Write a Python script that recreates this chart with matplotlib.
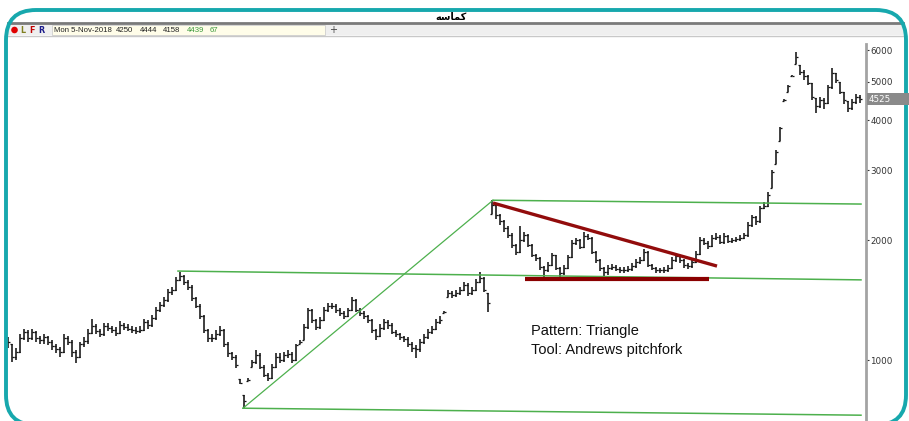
import numpy as np
import matplotlib
matplotlib.use('Agg')
import matplotlib.pyplot as plt
from matplotlib.patches import FancyBboxPatch, Rectangle, Circle
from matplotlib.ticker import NullLocator

# daily prices (one bar per slot)
close = [1110, 1017, 1047, 1135, 1176, 1135, 1176, 1135, 1120, 1140,
         1110, 1085, 1065, 1047, 1135, 1110, 1047, 1017, 1095, 1115,
         1170, 1218, 1183, 1160, 1218, 1203, 1190, 1170, 1225, 1210,
         1197, 1190, 1183, 1190, 1246, 1225, 1275, 1335, 1375, 1415,
         1480, 1500, 1590, 1625, 1570, 1525, 1430, 1368, 1290, 1190,
         1135, 1135, 1160, 1190, 1100, 1040, 1017, 972, 875, 790,
         890, 988, 1030, 960, 917, 900, 960, 1017, 1000, 1030,
         1035, 1000, 1090, 1110, 1210, 1335, 1260, 1210, 1260, 1335,
         1368, 1368, 1335, 1310, 1290, 1335, 1415, 1335, 1310, 1290,
         1260, 1190, 1148, 1203, 1246, 1225, 1176, 1160, 1140, 1128,
         1100, 1075, 1065, 1110, 1140, 1176, 1197, 1246, 1260, 1320,
         1470, 1457, 1470, 1500, 1540, 1470, 1500, 1570, 1610, 1500,
         1390, 2450, 2320, 2230, 2145, 2060, 1945, 1870, 2000, 2060,
         1945, 1835, 1800, 1710, 1680, 1730, 1835, 1700, 1650, 1700,
         1810, 1970, 2000, 1920, 2045, 2030, 1870, 1780, 1700, 1660,
         1700, 1710, 1690, 1680, 1680, 1690, 1720, 1760, 1780, 1870,
         1730, 1700, 1680, 1680, 1680, 1700, 1780, 1825, 1780, 1730,
         1720, 1760, 1850, 2000, 1970, 1930, 2030, 2040, 1980, 2045,
         1990, 2000, 2015, 2030, 2060, 2180, 2290, 2230, 2410, 2440,
         2600, 2970, 3330, 3830, 4500, 4880, 5180, 5780, 5300, 5180,
         4970, 4580, 4350, 4500, 4420, 4850, 5260, 5050, 4720, 4500,
         4300, 4450, 4580, 4525]

high = [1140, 1100, 1070, 1160, 1200, 1190, 1200, 1180, 1150, 1160,
        1150, 1120, 1100, 1080, 1160, 1150, 1120, 1060, 1110, 1140,
        1200, 1270, 1230, 1200, 1240, 1240, 1220, 1210, 1250, 1240,
        1230, 1220, 1210, 1220, 1270, 1260, 1300, 1360, 1400, 1440,
        1510, 1530, 1620, 1660, 1640, 1590, 1540, 1440, 1380, 1300,
        1200, 1160, 1190, 1220, 1200, 1110, 1050, 1030, 895, 815,
        900, 1000, 1060, 1040, 970, 930, 975, 1040, 1040, 1050,
        1060, 1045, 1100, 1120, 1230, 1350, 1340, 1270, 1280, 1360,
        1390, 1390, 1380, 1350, 1330, 1350, 1440, 1420, 1350, 1330,
        1300, 1270, 1200, 1230, 1270, 1260, 1240, 1190, 1170, 1150,
        1140, 1110, 1090, 1130, 1160, 1200, 1220, 1270, 1290, 1330,
        1500, 1490, 1500, 1530, 1570, 1560, 1530, 1600, 1660, 1620,
        1470, 2520, 2450, 2330, 2250, 2170, 2080, 1960, 2170, 2100,
        2070, 1960, 1850, 1810, 1720, 1760, 1860, 1840, 1710, 1730,
        1840, 2000, 2030, 2010, 2100, 2070, 2040, 1880, 1790, 1710,
        1730, 1740, 1730, 1710, 1710, 1720, 1750, 1790, 1810, 1900,
        1880, 1740, 1710, 1700, 1710, 1730, 1810, 1850, 1840, 1790,
        1750, 1790, 1880, 2040, 2020, 1990, 2060, 2080, 2060, 2080,
        2060, 2030, 2040, 2060, 2090, 2220, 2320, 2300, 2440, 2490,
        2640, 3000, 3360, 3860, 4520, 4920, 5200, 5950, 5500, 5350,
        5200, 4950, 4560, 4580, 4560, 4900, 5400, 5250, 5000, 4700,
        4480, 4520, 4650, 4640]

low = [1070, 990, 1000, 1040, 1120, 1110, 1120, 1110, 1100, 1100,
       1090, 1060, 1040, 1020, 1040, 1090, 1020, 985, 1010, 1080,
       1100, 1160, 1160, 1140, 1150, 1180, 1170, 1150, 1160, 1190,
       1180, 1170, 1160, 1170, 1180, 1200, 1210, 1260, 1320, 1360,
       1400, 1460, 1490, 1580, 1540, 1500, 1410, 1350, 1270, 1170,
       1110, 1110, 1120, 1150, 1080, 1020, 1000, 955, 870, 757,
       885, 960, 980, 950, 905, 885, 895, 955, 985, 990,
       1010, 985, 995, 1100, 1120, 1200, 1240, 1190, 1200, 1250,
       1320, 1340, 1310, 1290, 1270, 1280, 1330, 1320, 1290, 1270,
       1240, 1170, 1120, 1140, 1190, 1200, 1160, 1140, 1120, 1110,
       1080, 1050, 1010, 1050, 1100, 1130, 1160, 1190, 1230, 1310,
       1440, 1430, 1440, 1460, 1490, 1450, 1460, 1490, 1560, 1480,
       1320, 2330, 2260, 2180, 2100, 2020, 1910, 1840, 1860, 1980,
       1920, 1810, 1770, 1680, 1610, 1660, 1720, 1680, 1610, 1640,
       1690, 1800, 1950, 1900, 1910, 2000, 1850, 1750, 1670, 1610,
       1640, 1680, 1670, 1650, 1650, 1660, 1670, 1700, 1740, 1770,
       1710, 1680, 1650, 1650, 1650, 1660, 1690, 1760, 1750, 1700,
       1690, 1700, 1750, 1840, 1940, 1900, 1920, 2000, 1960, 1960,
       1970, 1970, 1980, 1990, 2010, 2040, 2160, 2190, 2210, 2390,
       2430, 2700, 3100, 3550, 4480, 4700, 5160, 5550, 5200, 5050,
       4900, 4500, 4170, 4300, 4280, 4400, 4800, 4950, 4650, 4400,
       4200, 4250, 4400, 4430]

price_ticks = [1000, 2000, 3000, 4000, 5000, 6000]
last_price = 4525

# Andrews pitchfork: (bar, price) anchors
pf_p1 = (42.5, 1673)
pf_p2 = (58.75, 757)
pf_p3 = (121.25, 2520)
pf_end_bar = 213.25
pf_end_price = [1590, 2465, 727]   # median, upper, lower at right edge

# triangle
tri_res = ([121.25, 177.25], [2480, 1722])
tri_sup = ([129.25, 175.25], [1598, 1598])

title = '\uFEEA\uFEB3\uFE8E\uFEE4\uFB90'   # کماسه (shaped, visual order)
info_vals = ['Mon 5-Nov-2018', '4250', '4444', '4158', '4439', '67']

fig = plt.figure(figsize=(9.09, 4.21), dpi=100)
fig.patch.set_facecolor('white')
ax = fig.add_axes([5 / 909, 0, 861 / 909, 377 / 421])
ax.set_facecolor('none')
ax.set_yscale('log')
ax.set_ylim(703, 6220)
ax.set_xlim(-0.75, 214.5)

x = np.arange(len(close))
c = np.array(close, float)
h = np.array(high, float)
l = np.array(low, float)
o = np.clip(np.r_[c[0], c[:-1]], l, h)
bar_col = '#141414'
ax.vlines(x, l, h, color=bar_col, lw=1.15)
ax.hlines(o, x - 0.5, x, color=bar_col, lw=0.9)
ax.hlines(c, x, x + 0.5, color=bar_col, lw=0.9)

# pitchfork
g = '#4db04d'
ax.plot([pf_p2[0], pf_p3[0]], [pf_p2[1], pf_p3[1]], color=g, lw=0.9)
for p, e in zip([pf_p1, pf_p3, pf_p2], pf_end_price):
    ax.plot([p[0], pf_end_bar], [p[1], e], color=g, lw=1.1)

# triangle
ax.plot(*tri_res, color='#920c0c', lw=2.4, solid_capstyle='butt')
ax.plot(*tri_sup, color='#8a0000', lw=3, solid_capstyle='butt')

ax.text(130.75, 1185, 'Pattern: Triangle', fontsize=10.5, family='Liberation Sans',
        va='center', ha='left', color='#111111')
ax.text(130.75, 1060, 'Tool: Andrews pitchfork', fontsize=10.5, family='Liberation Sans',
        va='center', ha='left', color='#111111')

# axis
ax.yaxis.tick_right()
ax.set_yticks(price_ticks, labels=[str(t) for t in price_ticks])
ax.yaxis.set_minor_locator(NullLocator())
ax.set_xticks([])
ax.tick_params(axis='y', direction='out', length=2, width=0.8, pad=1,
               labelsize=6.3, colors='#333333')
for s in ['top', 'left', 'bottom']:
    ax.spines[s].set_visible(False)
ax.spines['right'].set_color('#a3a3a3')
ax.spines['right'].set_linewidth(2)

# last price marker
fig.canvas.draw()
_, ly = fig.transFigure.inverted().transform(ax.transData.transform((0, last_price)))
fig.patches.append(Rectangle((867 / 909, ly - 6 / 421), 42 / 909, 12 / 421,
                             transform=fig.transFigure, fc='#8a8a8a', ec='none', zorder=6))
fig.text(869 / 909, ly, str(last_price), fontsize=6.3, color='white', va='center',
         ha='left', zorder=7)

# window chrome (pixel coordinates, y down)
ov = fig.add_axes([0, 0, 1, 1], zorder=5)
ov.set_xlim(0, 909)
ov.set_ylim(421, 0)
ov.axis('off')
ov.patch.set_alpha(0)

ov.add_patch(Rectangle((8, 24), 895, 11, fc='#efefef', ec='none'))
ov.plot([8, 903], [23, 23], color='#7a7a7a', lw=2)
ov.plot([8, 903], [35.5, 35.5], color='#c8c8c8', lw=1)
ov.add_patch(Rectangle((52, 25), 273, 10, fc='#fffde9', ec='#cfcfcf', lw=0.6))
ov.add_patch(Circle((14.5, 30), 3.3, fc='#e00000', ec='none'))
for s, xx, col in [('L', 20, '#7f7f1f'), ('F', 29, '#c00000'), ('R', 38, '#1a1a8a')]:
    ov.text(xx, 30.5, s, fontsize=5.8, fontweight='bold', color=col, va='center')
info_x = [54, 116, 140, 163, 187, 210]
info_c = ['#222222', '#222222', '#222222', '#222222', '#3c9a3c', '#3c9a3c']
for s, xx, col in zip(info_vals, info_x, info_c):
    ov.text(xx, 30.5, s, fontsize=5.6, color=col, va='center', ha='left',
            family='Liberation Sans')
ov.text(333, 30, '+', fontsize=7, color='#444444', va='center', ha='center')
ov.text(451, 17, title, fontsize=7, fontweight='bold', ha='center', va='center',
        family='DejaVu Sans')

# rounded teal frame (y up, so the rounding is not flipped)
fr = fig.add_axes([0, 0, 1, 1], zorder=6)
fr.set_xlim(0, 909)
fr.set_ylim(0, 421)
fr.axis('off')
fr.patch.set_alpha(0)
fr.add_patch(FancyBboxPatch((6, -4), 900, 415, boxstyle='round,pad=0,rounding_size=30',
                            fill=False, ec='#17a8ad', lw=2.8))

fig.savefig('out.png', dpi=100)
